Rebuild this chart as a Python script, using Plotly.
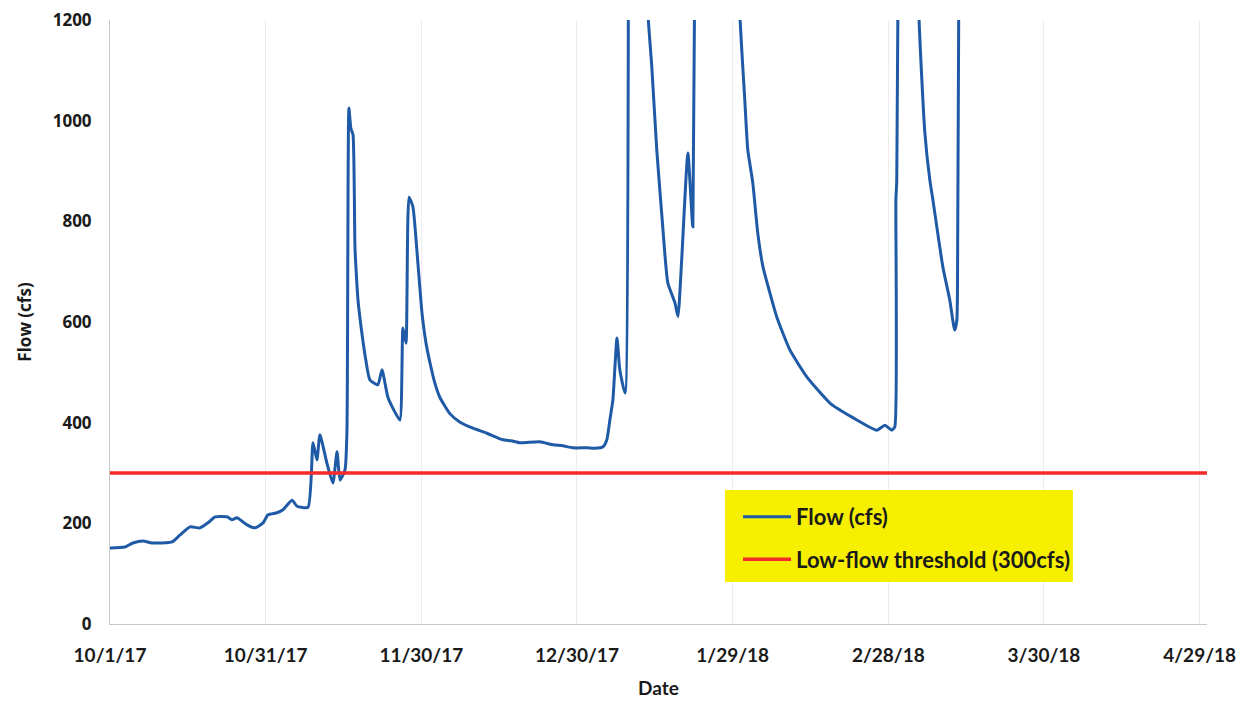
import plotly.graph_objects as go

# flow record (values above 1200 are clipped in the original)
dates = [
    "2017-10-01 00:00", "2017-10-03 21:00", "2017-10-05 10:00", "2017-10-07 09:00",
    "2017-10-09 02:00", "2017-10-12 23:00", "2017-10-14 12:00", "2017-10-16 10:00",
    "2017-10-18 08:00", "2017-10-19 21:00", "2017-10-21 06:00", "2017-10-23 13:00",
    "2017-10-24 12:00", "2017-10-25 11:00", "2017-10-27 10:00", "2017-10-28 23:00",
    "2017-10-30 12:00", "2017-10-31 11:00", "2017-11-02 04:00", "2017-11-03 08:00",
    "2017-11-05 02:00", "2017-11-06 01:00", "2017-11-08 04:00", "2017-11-09 03:00",
    "2017-11-09 21:00", "2017-11-10 11:00", "2017-11-11 19:00", "2017-11-12 23:00",
    "2017-11-13 18:00", "2017-11-14 08:00", "2017-11-15 07:00", "2017-11-15 16:00",
    "2017-11-16 01:00", "2017-11-16 10:00", "2017-11-16 20:00", "2017-11-17 05:00",
    "2017-11-17 12:00", "2017-11-17 19:00", "2017-11-18 13:00", "2017-11-19 07:00",
    "2017-11-20 02:00", "2017-11-21 15:00", "2017-11-22 10:00", "2017-11-23 13:00",
    "2017-11-24 17:00", "2017-11-25 21:00", "2017-11-26 11:00", "2017-11-27 01:00",
    "2017-11-27 15:00", "2017-11-28 09:00", "2017-11-29 07:00", "2017-11-30 03:00",
    "2017-11-30 21:00", "2017-12-01 16:00", "2017-12-02 15:00", "2017-12-03 14:00",
    "2017-12-05 12:00", "2017-12-07 11:00", "2017-12-09 23:00", "2017-12-12 15:00",
    "2017-12-15 17:00", "2017-12-17 08:00", "2017-12-19 00:00", "2017-12-22 20:00",
    "2017-12-25 09:00", "2017-12-27 06:00", "2017-12-29 05:00", "2017-12-31 22:00",
    "2018-01-02 10:00", "2018-01-04 00:00", "2018-01-04 18:00", "2018-01-05 08:00",
    "2018-01-05 22:00", "2018-01-06 17:00", "2018-01-07 06:00", "2018-01-08 06:00",
    "2018-01-09 05:00", "2018-01-12 16:00", "2018-01-13 10:00", "2018-01-14 09:00",
    "2018-01-15 09:00", "2018-01-16 12:00", "2018-01-17 21:00", "2018-01-18 11:00",
    "2018-01-19 05:00", "2018-01-20 09:00", "2018-01-21 08:00", "2018-01-23 15:00",
    "2018-01-30 09:00", "2018-01-31 08:00", "2018-01-31 22:00", "2018-02-01 21:00",
    "2018-02-02 20:00", "2018-02-03 20:00", "2018-02-05 04:00", "2018-02-06 12:00",
    "2018-02-09 00:00", "2018-02-12 07:00", "2018-02-16 18:00", "2018-02-21 04:00",
    "2018-02-25 19:00", "2018-02-27 08:00", "2018-02-28 16:00", "2018-03-01 06:00",
    "2018-03-01 11:00", "2018-03-01 15:00", "2018-03-03 04:00", "2018-03-05 21:00",
    "2018-03-07 01:00", "2018-03-08 00:00", "2018-03-08 14:00", "2018-03-10 12:00",
    "2018-03-11 20:00", "2018-03-12 19:00", "2018-03-13 05:00", "2018-03-13 09:00",
    "2018-03-13 14:00",
]
flow_cfs = [
    151, 153, 161, 165, 161, 163, 177, 193, 191, 201, 213, 213,
    207, 211, 197, 191, 201, 217, 221, 227, 246, 234, 232, 360,
    326, 376, 320, 280, 342, 286, 306, 385, 1025, 985, 972, 749,
    690, 644, 578, 525, 485, 475, 505, 451, 425, 405, 588, 558,
    848, 829, 723, 618, 560, 519, 478, 450, 418, 401, 389, 379,
    366, 364, 360, 362, 356, 354, 350, 350, 349, 352, 366, 405,
    445, 568, 505, 459, 2800, 1215, 1107, 942, 809, 678, 638, 611,
    730, 936, 789, 3800, 1215, 1042, 942, 877, 777, 710, 658, 610,
    545, 491, 439, 410, 385, 395, 385, 392, 843, 880, 3000, 1215,
    976, 882, 843, 710, 644, 584, 604, 777, 1250,
]

threshold_cfs = 300
x_range = ["2017-10-01", "2018-04-30 10:00"]
tick_dates = ["2017-10-01", "2017-10-31", "2017-11-30", "2017-12-30",
              "2018-01-29", "2018-02-28", "2018-03-30", "2018-04-29"]
tick_labels = ["10/1/17", "10/31/17", "11/30/17", "12/30/17",
               "1/29/18", "2/28/18", "3/30/18", "4/29/18"]
y_ticks = [0, 200, 400, 600, 800, 1000, 1200]

fig = go.Figure()

fig.add_trace(go.Scatter(
    x=dates, y=flow_cfs, mode="lines", name="Flow (cfs)",
    line=dict(color="#1f5aa6", width=3, shape="spline", smoothing=0.5),
    legendgroup="flow",
))
fig.add_trace(go.Scatter(
    x=x_range, y=[threshold_cfs, threshold_cfs], mode="lines",
    name="Low-flow threshold (300cfs)",
    line=dict(color="#f52a2a", width=3.5), legendgroup="thr",
))

# yellow legend panel drawn as a shape so the entries can sit with some padding
fig.add_shape(
    type="rect", xref="paper", yref="paper",
    x0=0.5606, x1=0.8778, y0=0.0695, y1=0.2219,
    fillcolor="#f7ef00", line=dict(width=0), layer="above",
)

# the page body adds an 8px margin, so the figure is sized to sit inside the window
fig.update_layout(
    width=1236, height=695,
    margin=dict(l=102, r=37, t=12, b=79),
    plot_bgcolor="white", paper_bgcolor="white",
    font=dict(family="Lato", size=17, color="#1a1a1a"),
    showlegend=True,
    legend=dict(
        x=0.5725, y=0.212, xanchor="left", yanchor="top",
        bgcolor="rgba(0,0,0,0)", borderwidth=0,
        font=dict(family="Lato", size=22, color="#1a1a1a", weight="bold"),
        traceorder="grouped", tracegroupgap=11,
        itemwidth=48,
    ),
)

fig.update_xaxes(
    range=x_range, tickvals=tick_dates, ticktext=tick_labels,
    showgrid=True, gridcolor="#ededed", gridwidth=1,
    showline=True, linecolor="#c8c8c8", linewidth=1,
    ticks="", ticklabelstandoff=14, automargin=False,
    ticklabeloverflow="allow",
    tickfont=dict(family="Lato", size=19, weight="bold"),
    title=dict(text="Date", standoff=16,
               font=dict(family="Lato", size=19, weight="bold")),
    zeroline=False,
)
fig.update_yaxes(
    range=[0, 1200], tickvals=y_ticks,
    showgrid=False,
    showline=True, linecolor="#c8c8c8", linewidth=1,
    ticks="", ticklabelstandoff=14, automargin=False,
    ticklabeloverflow="allow",
    tickfont=dict(family="Open Sans", size=17, weight="bold"),
    title=dict(text="Flow (cfs)", standoff=16,
               font=dict(family="Open Sans", size=17, weight="bold")),
    zeroline=False,
)

fig.write_html("out.html")
